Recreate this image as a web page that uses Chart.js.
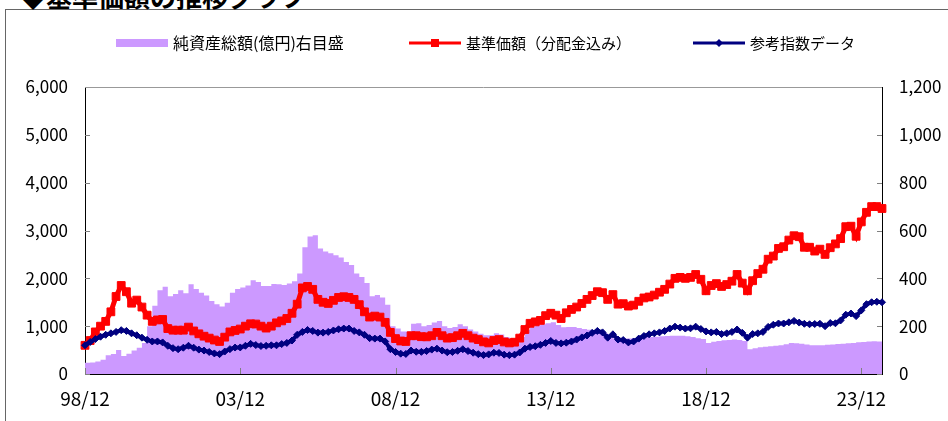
<!DOCTYPE html>
<html lang="ja">
<head>
<meta charset="UTF-8">
<title>基準価額の推移グラフ</title>
<script src="https://cdn.jsdelivr.net/npm/chart.js"></script>
<style>
  body { margin: 0; background: #fff; overflow: hidden; }
  #wrap { position: relative; width: 948px; height: 421px; overflow: hidden; }
  #frame { position: absolute; left: 5px; top: 9px; width: 1000px; height: 500px;
           border-left: 1px solid #666; border-top: 1px solid #666; }
  #title { position: absolute; left: 20px; top: -17px; white-space: nowrap; color: #000;
           font: bold 26px/26px 'Noto Sans CJK JP', sans-serif; }
  #chart { position: absolute; left: 0; top: 0; }
</style>
</head>
<body>
<div id="wrap">
  <div id="frame"></div>
  <div id="title">◆基準価額の推移グラフ</div>
  <canvas id="chart" width="948" height="421"></canvas>
</div>

<script>
// every 2 months from 1998/12
const nav = [
  600, 700, 880, 1000, 1100, 1300, 1620, 1850, 1720, 1480, 1545, 1400, 1230, 1100, 1130, 1140,
  950, 916, 916, 916, 980, 900, 840, 790, 750, 710, 680, 770, 880, 910, 940,
  1000, 1050, 1045, 1000, 960, 1000, 1070, 1110, 1160, 1270, 1460, 1800, 1830, 1770, 1560, 1500,
  1475, 1540, 1600, 1615, 1600, 1560, 1450, 1300, 1190, 1210, 1190, 1080, 870, 740, 690, 680,
  800, 800, 780, 777, 800, 870, 800, 750, 760, 800, 850, 800, 750, 720, 672, 650,
  700, 720, 670, 650, 665, 750, 930, 1060, 1090, 1120, 1220, 1270, 1230,
  1160, 1280, 1350, 1400, 1474, 1560, 1640, 1720, 1700, 1560, 1660, 1460, 1470, 1420, 1440, 1520,
  1590, 1610, 1650, 1710, 1770, 1880, 2000, 2020, 2000, 2020, 2080, 1980, 1740, 1850, 1890, 1830,
  1870, 1940, 2080, 1900, 1740, 1950, 2100, 2190, 2400, 2465, 2625, 2660, 2800, 2890, 2870, 2650,
  2650, 2570, 2610, 2500, 2640, 2720, 2830, 3080, 3090, 2880, 3180, 3380, 3500, 3500, 3460
];
const refIndex = [
  600, 670, 730, 780, 820, 850, 880, 916, 900, 850, 810, 760, 715, 680, 680, 660,
  590, 540, 518, 550, 590, 550, 510, 490, 460, 430, 415, 470, 520, 553, 555,
  590, 630, 605, 585, 590, 600, 600, 625, 650, 700, 820, 880, 920, 900, 865, 865,
  880, 910, 935, 950, 950, 900, 870, 820, 750, 740, 740, 680, 520, 460, 425, 420,
  490, 465, 463, 480, 510, 530, 490, 455, 460, 485, 518, 480, 445, 415, 395, 410,
  445, 440, 405, 393, 405, 450, 530, 565, 580, 610, 650, 690, 650,
  640, 655, 680, 720, 765, 805, 860, 900, 870, 760, 830, 720, 710, 660, 680, 740,
  795, 830, 850, 870, 900, 950, 990, 970, 950, 955, 990, 940, 890, 870, 880, 835,
  850, 880, 930, 860, 760, 835, 850, 880, 985, 1030, 1056, 1056, 1080, 1110, 1075, 1050,
  1040, 1045, 1050, 1000, 1065, 1060, 1120, 1240, 1265, 1210, 1330, 1460, 1500, 1510, 1500
];
// 億円, right axis
const netAssets = [
  47, 48, 52, 60, 78, 84, 100, 75, 85, 98, 110, 130, 200, 285, 350, 365,
  325, 335, 350, 338, 375, 355, 340, 328, 305, 292, 282, 298, 340, 355, 362,
  370, 392, 385, 368, 368, 376, 375, 372, 378, 388, 420, 530, 575, 580, 525, 512,
  505, 497, 487, 468, 456, 420, 406, 380, 325, 330, 320, 290, 200, 190, 178, 178,
  210, 212, 200, 205, 215, 222, 200, 192, 196, 208, 200, 186, 178, 168, 162, 162,
  170, 165, 155, 148, 148, 155, 185, 198, 204, 208, 212, 216, 205,
  195, 197, 196, 192, 188, 185, 184, 183, 170, 152, 148, 148, 148, 148, 150, 155,
  155, 155, 156, 158, 159, 160, 160, 160, 158, 155, 150, 146, 130, 135, 138, 141,
  142, 144, 142, 138, 104, 108, 112, 114, 116, 118, 120, 124, 130, 129, 127, 123,
  120, 120, 120, 122, 123, 125, 127, 129, 130, 133, 134, 136, 137, 136, 134
];
const tickLabels = ['98/12', '03/12', '08/12', '13/12', '18/12', '23/12'];

const labels = [];
for (let i = 0; i < nav.length; i++) {
  const m = 11 + i * 2;
  const yy = String((1998 + Math.floor(m / 12)) % 100).padStart(2, '0');
  const mm = String(m % 12 + 1).padStart(2, '0');
  labels.push(yy + '/' + mm);
}

const FONT = "'Noto Sans CJK JP', sans-serif";

// legend drawn by hand: swatch line + marker like the original
const legendPlugin = {
  id: 'legendBar',
  afterDraw(chart) {
    const ctx = chart.ctx;
    const xs = [116, 409, 693];
    const y = 43;
    ctx.save();
    ctx.textBaseline = 'middle';
    chart.data.datasets.forEach((ds, i) => {
      const x = xs[i];
      if (i === 0) {
        ctx.fillStyle = ds.backgroundColor;
        ctx.fillRect(x, y - 4, 52, 8);
      } else {
        ctx.strokeStyle = ds.borderColor;
        ctx.lineWidth = 3;
        ctx.beginPath();
        ctx.moveTo(x, y);
        ctx.lineTo(x + 52, y);
        ctx.stroke();
        ctx.fillStyle = ds.borderColor;
        const cx = x + 26;
        ctx.beginPath();
        if (ds.pointStyle === 'rect') {
          ctx.rect(cx - 4, y - 4, 8, 8);
        } else {
          ctx.moveTo(cx, y - 4); ctx.lineTo(cx + 4, y);
          ctx.lineTo(cx, y + 4); ctx.lineTo(cx - 4, y);
          ctx.closePath();
        }
        ctx.fill();
      }
      ctx.font = (i === 0 ? '16px ' : '15px ') + FONT;
      ctx.fillStyle = '#000';
      ctx.fillText(ds.label, x + 57, y);
    });
    ctx.restore();
  }
};

// tick marks point into the plot, and a grey top border
const innerTicks = {
  id: 'innerTicks',
  afterDraw(chart) {
    const { ctx, chartArea: a, scales } = chart;
    ctx.save();
    ctx.lineWidth = 1;
    ctx.strokeStyle = '#808080';
    ctx.beginPath();
    scales.y.ticks.forEach(t => {
      const py = Math.round(scales.y.getPixelForValue(t.value)) + 0.5;
      ctx.moveTo(a.left, py); ctx.lineTo(a.left + 5, py);
    });
    scales.y1.ticks.forEach(t => {
      const py = Math.round(scales.y1.getPixelForValue(t.value)) + 0.5;
      ctx.moveTo(a.right - 5, py); ctx.lineTo(a.right, py);
    });
    scales.x.ticks.forEach(t => {
      const px = Math.round(scales.x.getPixelForValue(t.value)) + 0.5;
      ctx.moveTo(px, a.bottom); ctx.lineTo(px, a.bottom - 6);
    });
    ctx.stroke();
    ctx.strokeStyle = '#999';
    ctx.beginPath();
    ctx.moveTo(a.left, a.top + 0.5); ctx.lineTo(a.right, a.top + 0.5);
    ctx.stroke();
    ctx.restore();
  }
};

new Chart(document.getElementById('chart'), {
  type: 'line',
  data: {
    labels: labels,
    datasets: [
      {
        label: '純資産総額(億円)右目盛',
        data: netAssets,
        yAxisID: 'y1',
        stepped: true,
        fill: 'origin',
        backgroundColor: '#CC99FF',
        borderWidth: 0,
        pointRadius: 0,
        order: 3
      },
      {
        label: '基準価額（分配金込み）',
        data: nav,
        yAxisID: 'y',
        borderColor: '#FF0000',
        backgroundColor: '#FF0000',
        borderWidth: 5,
        pointStyle: 'rect',
        pointRadius: 5.5,
        pointBorderWidth: 1,
        tension: 0,
        order: 2
      },
      {
        label: '参考指数データ',
        data: refIndex,
        yAxisID: 'y',
        borderColor: '#000080',
        backgroundColor: '#000080',
        borderWidth: 4,
        pointStyle: 'rectRot',
        pointRadius: 3.5,
        pointBorderWidth: 1,
        tension: 0,
        order: 1
      }
    ]
  },
  options: {
    responsive: false,
    devicePixelRatio: 1,
    animation: false,
    events: [],
    layout: { padding: { top: 87, left: 0, right: 0, bottom: 0 } },
    plugins: { legend: { display: false }, tooltip: { enabled: false } },
    scales: {
      x: {
        grid: { display: false, drawTicks: false },
        border: { display: true, color: '#000', width: 1 },
        afterBuildTicks: s => { s.ticks = s.ticks.filter(t => tickLabels.includes(labels[t.value])); },
        afterFit: s => { s.height = 47; },
        ticks: {
          autoSkip: false, maxRotation: 0, minRotation: 0, padding: 13,
          color: '#000', font: { family: FONT, size: 19 },
          callback: function (v) { return this.getLabelForValue(v); }
        }
      },
      y: {
        position: 'left',
        min: 0, max: 6000,
        grid: { display: false, drawTicks: false },
        border: { display: true, color: '#000', width: 1 },
        afterFit: s => { s.width = 85; },
        ticks: {
          stepSize: 1000, padding: 17, color: '#000',
          font: { family: FONT, size: 17 },
          callback: v => v.toLocaleString('en-US')
        }
      },
      y1: {
        position: 'right',
        min: 0, max: 1200,
        grid: { display: false, drawTicks: false },
        border: { display: true, color: '#000', width: 1 },
        afterFit: s => { s.width = 66; },
        ticks: {
          stepSize: 200, padding: 17, color: '#000',
          font: { family: FONT, size: 17 },
          callback: v => v.toLocaleString('en-US')
        }
      }
    }
  },
  plugins: [legendPlugin, innerTicks]
});
</script>
</body>
</html>
